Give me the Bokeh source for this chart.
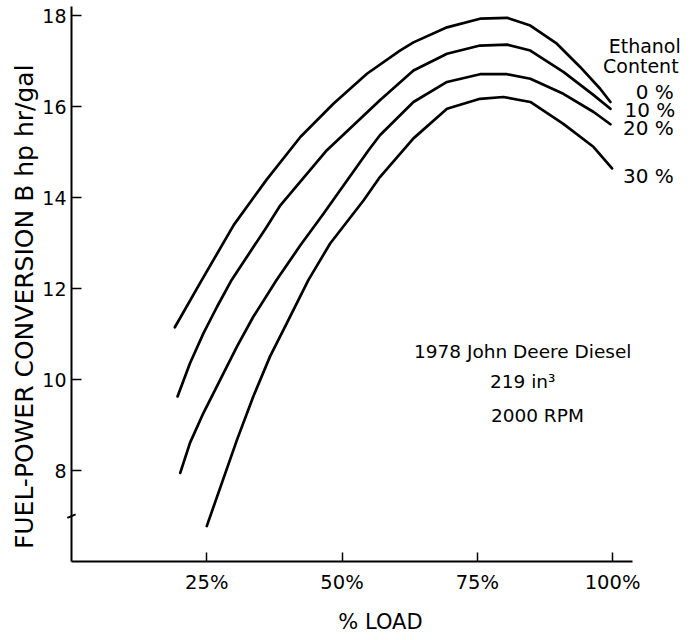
import math
from bokeh.plotting import figure
from bokeh.models import FixedTicker, Range1d
from bokeh.core.properties import value
from bokeh.embed import file_html
from bokeh.resources import INLINE

# ---- data ----
load_0 = [19.1, 24.1, 30.0, 36.1, 42.3, 48.4, 54.6, 60.7, 63.2, 69.4, 75.5, 80.5, 84.8, 89.7, 94.0, 97.7, 99.6]
beff_0 = [11.15, 12.19, 13.4, 14.4, 15.33, 16.06, 16.72, 17.23, 17.41, 17.74, 17.93, 17.95, 17.78, 17.38, 16.87, 16.39, 16.10]

load_10 = [19.6, 21.9, 24.4, 26.9, 29.6, 36.1, 38.6, 47.2, 57.0, 63.2, 69.4, 75.5, 80.5, 84.8, 90.9, 96.5, 99.6]
beff_10 = [9.63, 10.36, 11.02, 11.60, 12.19, 13.36, 13.83, 15.04, 16.14, 16.79, 17.16, 17.34, 17.36, 17.23, 16.76, 16.25, 15.95]

load_20 = [20.1, 21.9, 24.4, 27.5, 30.6, 33.6, 37.9, 42.3, 46.6, 48.4, 54.9, 57.0, 63.2, 69.4, 75.5, 80.5, 84.8, 90.9, 96.5, 99.6]
beff_20 = [7.95, 8.61, 9.27, 10.0, 10.73, 11.38, 12.19, 12.95, 13.65, 13.95, 15.04, 15.37, 16.10, 16.54, 16.71, 16.71, 16.61, 16.28, 15.88, 15.61]

load_30 = [25.0, 27.8, 30.6, 33.6, 36.7, 39.8, 43.8, 47.8, 54.0, 57.0, 63.2, 69.4, 75.5, 79.8, 84.8, 90.9, 96.5, 99.9]
beff_30 = [6.78, 7.73, 8.68, 9.63, 10.51, 11.24, 12.19, 12.99, 13.94, 14.45, 15.30, 15.95, 16.17, 16.21, 16.10, 15.62, 15.11, 14.64]

x_ticks = [25, 50, 75, 100]
x_tick_labels = ["25%", "50%", "75%", "100%"]
y_ticks = [8, 10, 12, 14, 16, 18]
axis_break = [7]
series_names = ["0 %", "10 %", "20 %", "30 %"]
legend_title = ["Ethanol", "Content"]
engine_info = ["1978 John Deere Diesel", "219 in\u00b3", "2000 RPM"]
x_title = "% LOAD"
y_title = "FUEL-POWER CONVERSION B hp hr/gal"

FONT = "DejaVu Sans"
X_AXIS_START, X_AXIS_END = 0.0, 103.6
Y_AXIS_START, Y_AXIS_END = 6.0, 18.2

# the frame covers the whole canvas; axes are drawn at fixed data locations
p = figure(width=690, height=638, title=None,
           x_range=Range1d(-13.12, 114.4), y_range=Range1d(4.31, 18.33),
           output_backend="svg", toolbar_location=None,
           min_border_left=0, min_border_right=0, min_border_top=0, min_border_bottom=0)
p.outline_line_color = None
p.grid.visible = False
p.background_fill_color = "white"
p.border_fill_color = "white"

for ax in (p.xaxis[0], p.yaxis[0]):
    ax.axis_line_width = 2
    ax.axis_line_color = "black"
    ax.major_tick_line_width = 1.5
    ax.major_tick_line_color = "black"
    ax.major_tick_out = 0
    ax.minor_tick_line_color = None
    ax.major_label_text_color = "black"
    ax.major_label_text_font = FONT

xa = p.xaxis[0]
xa.fixed_location = Y_AXIS_START
xa.bounds = (X_AXIS_START, X_AXIS_END)
xa.ticker = FixedTicker(ticks=x_ticks)
xa.major_label_overrides = {t: l for t, l in zip(x_ticks, x_tick_labels)}
xa.major_tick_in = 9
xa.major_label_standoff = 9
xa.major_label_text_font_size = "19.5px"

ya = p.yaxis[0]
ya.fixed_location = X_AXIS_START
ya.bounds = (Y_AXIS_START, Y_AXIS_END)
ya.ticker = FixedTicker(ticks=y_ticks)
ya.major_tick_in = 10
ya.major_label_standoff = 5
ya.major_label_text_font_size = "19px"

# axis break mark
p.scatter(x=[X_AXIS_START] * len(axis_break), y=axis_break, marker="dash", size=9, angle=0.4,
          line_color="black", line_width=2)

loads = [load_0, load_10, load_20, load_30]
beffs = [beff_0, beff_10, beff_20, beff_30]
for xs, ys in zip(loads, beffs):
    p.line(xs, ys, line_color="black", line_width=2.7, line_join="round", line_cap="round")

# axis titles
p.text(x=[57.1], y=[4.68], text=[x_title], text_align="center", text_baseline="middle",
       text_font=value(FONT), text_font_size="21px", text_color="black")
p.text(x=[-8.7], y=[11.60], text=[y_title], angle=math.pi / 2,
       text_align="center", text_baseline="middle",
       text_font=value(FONT), text_font_size="25px", text_color="black")

# engine info text
p.text(x=[83.4, 83.4, 86.1], y=[10.61, 9.95, 9.21], text=engine_info,
       text_align="center", text_baseline="middle",
       text_font=value(FONT), text_font_size="18.5px", text_color="black")

# legend-like labels at the right end of the curves
p.text(x=[112.6, 112.2], y=[17.32, 16.90], text=legend_title,
       text_align="right", text_baseline="middle",
       text_font=value(FONT), text_font_size="19px", text_color="black")
p.text(x=[111.3, 111.6, 111.3, 111.3], y=[16.31, 15.92, 15.52, 14.47], text=series_names,
       text_align="right", text_baseline="middle",
       text_font=value(FONT), text_font_size="20px", text_color="black")

open("out.html", "w").write(file_html(p, INLINE))
